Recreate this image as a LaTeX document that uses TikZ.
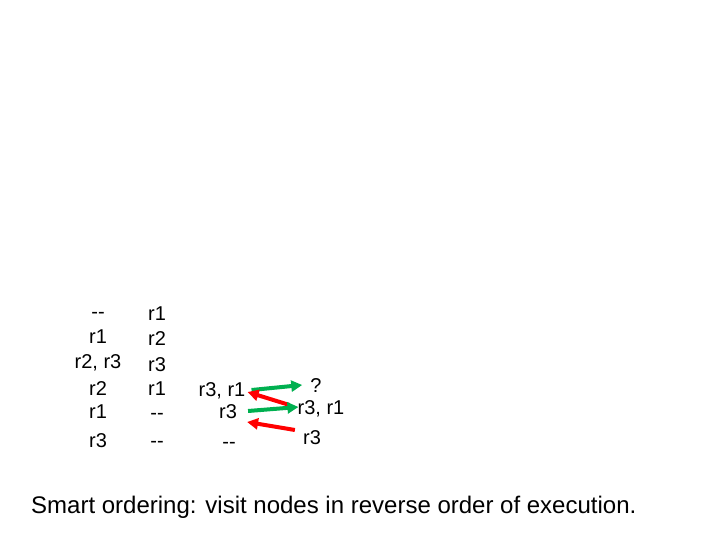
\documentclass[tikz,border=0pt]{standalone}
\usepackage{fontspec}
\setmainfont{Liberation Sans}
\usepackage{tikz}
\usetikzlibrary{arrows.meta}
\definecolor{fwdgreen}{HTML}{00B050}
\definecolor{bwdred}{HTML}{FF0000}

\begin{document}
\begin{tikzpicture}[
			x=1pt, y=-1pt,
			cell/.style={
				font=\fontsize{20}{24}\selectfont,
				inner sep=0pt, text height=14.3pt, text depth=0pt
			},
			fwd/.style={
				-{Triangle[length=11pt,width=11pt]},
				fwdgreen, line width=4pt
			},
			bwd/.style={
				-{Triangle[length=11pt,width=11pt]},
				bwdred, line width=4pt
			}
			]
			\useasboundingbox (0,0) rectangle (720,540);
			
			% first column
			\node[cell] (a1) at (98,311) {-{}-};
			\node[cell] (a2) at (98,336) {r1};
			\node[cell] (a3) at (98,361) {r2, r3};
			\node[cell] (a4) at (98,388) {r2};
			\node[cell] (a5) at (98,411) {r1};
			\node[cell] (a6) at (98,440) {r3};
			
			% second column
			\node[cell] (b1) at (157,313) {r1};
			\node[cell] (b2) at (157,338) {r2};
			\node[cell] (b3) at (157,364) {r3};
			\node[cell] (b4) at (157,388) {r1};
			\node[cell] (b5) at (157,412) {-{}-};
			\node[cell] (b6) at (157,440) {-{}-};
			
			% third column
			\node[cell] (c1) at (222,389) {r3, r1};
			\node[cell] (c2) at (228,411) {r3};
			\node[cell] (c3) at (229,441) {-{}-};
			
			% fourth column
			\node[cell] (d1) at (316,385) {?};
			\node[cell] (d2) at (321,407) {r3, r1};
			\node[cell] (d3) at (312,437) {r3};
			
			\draw[fwd] ([xshift=6pt,yshift=-1pt]c1.east) -- ([xshift=-8pt]d1.west);
			\draw[bwd] ([xshift=-8pt,yshift=2pt]d2.west) -- ([xshift=2pt,yshift=-3pt]c1.east);
			\draw[fwd] ([xshift=11pt]c2.east) -- ([xshift=1pt]d2.west);
			\draw[bwd] ([xshift=-8pt,yshift=7pt]d3.west) -- ([xshift=10pt,yshift=-11pt]c2.east);
			
			\node[font=\fontsize{24}{28}\selectfont, inner sep=0pt, anchor=base west] (caption) at (31,513)
				{Smart ordering: visit nodes in reverse order of execution.};
		\end{tikzpicture}
\end{document}
